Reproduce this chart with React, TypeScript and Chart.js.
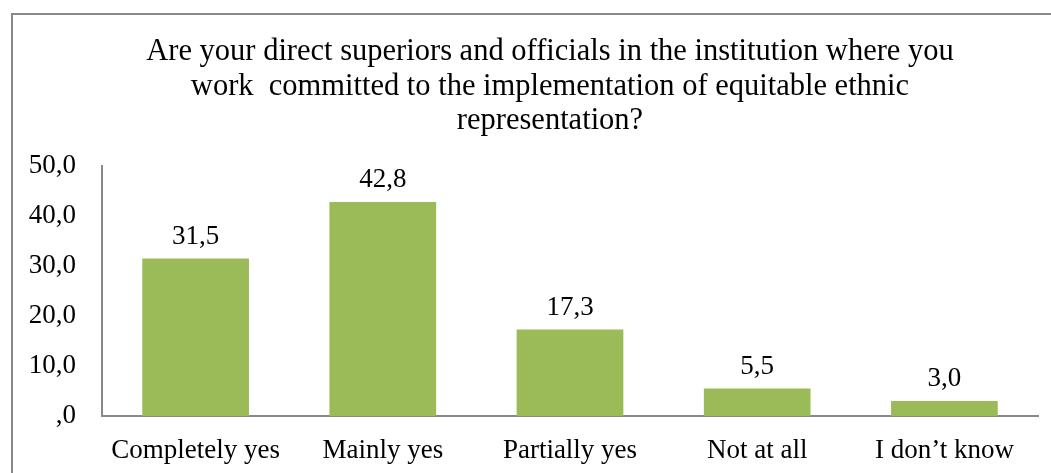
import React, { useEffect, useRef } from "react";
import { Chart, registerables } from "chart.js";

Chart.register(...registerables);

const categories = ["Completely yes", "Mainly yes", "Partially yes", "Not at all", "I don’t know"];
const values = [31.5, 42.8, 17.3, 5.5, 3.0];
const titleLines = [
  "Are your direct superiors and officials in the institution where you",
  "work  committed to the implementation of equitable ethnic",
  "representation?",
];
const yTicks = [0, 10, 20, 30, 40, 50];

const FONT = '"Liberation Serif"';
const fmt = (v: number) => (v === 0 ? ",0" : v.toFixed(1).replace(".", ","));

const frame = {
  id: "frame",
  beforeDraw(chart: any) {
    const ctx = chart.ctx;
    ctx.save();
    ctx.strokeStyle = "#898989";
    ctx.lineWidth = 2;
    ctx.beginPath();
    ctx.moveTo(12, 480);
    ctx.lineTo(12, 14);
    ctx.lineTo(1060, 14);
    ctx.stroke();
    ctx.restore();
  },
};

const chartTitle = {
  id: "chartTitle",
  afterDraw(chart: any) {
    const ctx = chart.ctx;
    ctx.save();
    ctx.font = `30.5px ${FONT}`;
    ctx.fillStyle = "#000";
    ctx.textAlign = "center";
    ctx.textBaseline = "middle";
    titleLines.forEach((line, i) => {
      ctx.fillText(line, 550, 52 + i * 34.5);
    });
    ctx.restore();
  },
};

const dataLabels = {
  id: "dataLabels",
  afterDatasetsDraw(chart: any) {
    const ctx = chart.ctx;
    const meta = chart.getDatasetMeta(0);
    ctx.save();
    ctx.font = `27px ${FONT}`;
    ctx.fillStyle = "#000";
    ctx.textAlign = "center";
    ctx.textBaseline = "alphabetic";
    meta.data.forEach((bar: any, i: number) => {
      ctx.fillText(fmt(values[i]), bar.x, bar.y - 15);
    });
    ctx.restore();
  },
};

export default function App() {
  const ref = useRef<HTMLCanvasElement | null>(null);
  useEffect(() => {
    if (!ref.current) return;
    const chart = new Chart(ref.current, {
      type: "bar",
      data: {
        labels: categories,
        datasets: [
          {
            data: values,
            backgroundColor: "#9BBB59",
            borderWidth: 0,
            barPercentage: 0.57,
            categoryPercentage: 1,
          },
        ],
      },
      options: {
        responsive: false,
        animation: false,
        layout: { padding: { left: 0, right: 13, top: 166, bottom: 0 } },
        plugins: {
          legend: { display: false },
          tooltip: { enabled: false },
          title: { display: false },
        },
        scales: {
          x: {
            grid: { display: false, drawTicks: false },
            border: { display: true, color: "#898989", width: 2 },
            ticks: {
              color: "#000",
              font: { family: FONT, size: 27 },
              padding: 19,
              maxRotation: 0,
            },
            afterFit(scale: any) {
              scale.height = 57;
            },
          },
          y: {
            min: 0,
            max: 50,
            grid: { display: false, drawTicks: false },
            border: { display: true, color: "#898989", width: 2 },
            afterBuildTicks(scale: any) {
              scale.ticks = yTicks.map((v) => ({ value: v }));
            },
            ticks: {
              color: "#000",
              font: { family: FONT, size: 27 },
              padding: 26,
              callback: (v: any) => fmt(Number(v)),
            },
            afterFit(scale: any) {
              scale.width = 102;
            },
          },
        },
      },
      plugins: [frame, chartTitle, dataLabels],
    });
    return () => chart.destroy();
  }, []);
  return (
    <div style={{ position: "absolute", left: 0, top: 0, width: 1051, height: 473, background: "#fff" }}>
      <canvas ref={ref} width={1051} height={473} style={{ display: "block" }} />
    </div>
  );
}
